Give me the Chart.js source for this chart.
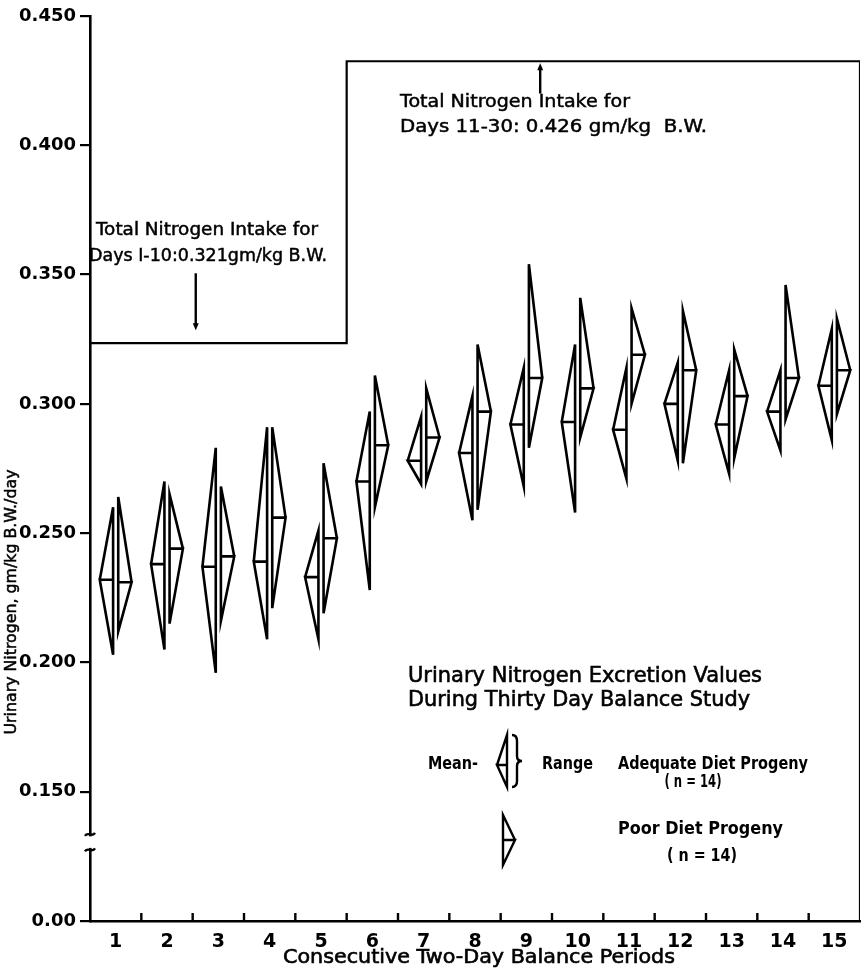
<!DOCTYPE html>
<html>
<head>
<meta charset="utf-8">
<title>Urinary Nitrogen Excretion</title>
<script src="https://cdn.jsdelivr.net/npm/chart.js"></script>
<style>
  html, body { margin: 0; padding: 0; background: #fff; }
</style>
</head>
<body>
<canvas id="chart" width="863" height="973"></canvas>
<script>
// data
const periods = [1, 2, 3, 4, 5, 6, 7, 8, 9, 10, 11, 12, 13, 14, 15];
const adequateMean = [0.232, 0.238, 0.237, 0.239, 0.233, 0.270, 0.278, 0.281, 0.292, 0.293, 0.290, 0.300, 0.292, 0.297, 0.307];
const adequateMin  = [0.203, 0.205, 0.196, 0.209, 0.209, 0.228, 0.269, 0.255, 0.268, 0.258, 0.271, 0.278, 0.273, 0.282, 0.286];
const adequateMax  = [0.260, 0.270, 0.283, 0.291, 0.251, 0.297, 0.295, 0.303, 0.314, 0.323, 0.314, 0.316, 0.313, 0.313, 0.329];
const poorMean = [0.231, 0.244, 0.241, 0.256, 0.248, 0.284, 0.287, 0.297, 0.310, 0.306, 0.319, 0.313, 0.303, 0.310, 0.313];
const poorMin  = [0.212, 0.215, 0.216, 0.221, 0.219, 0.260, 0.270, 0.259, 0.283, 0.287, 0.300, 0.277, 0.279, 0.294, 0.296];
const poorMax  = [0.264, 0.265, 0.268, 0.291, 0.277, 0.311, 0.306, 0.323, 0.354, 0.341, 0.337, 0.336, 0.321, 0.346, 0.333];
// intake lines as they are drawn: days 1-10 and days 11-30
const intakeLevels = [0.3235, 0.4325];
const yTickValues = [0.10, 0.15, 0.20, 0.25, 0.30, 0.35, 0.40, 0.45];
const yTickLabels = ['0.00', '0.150', '0.200', '0.250', '0.300', '0.350', '0.400', '0.450'];

const FONT = '"DejaVu Sans", sans-serif';
const VGAP = 0.05;   // half gap between the two range lines (x units)
const APEX = 0.26;   // how far the mean apex sticks out (x units)

// one polyline per series, shapes separated by gaps
function halfDiamonds(means, mins, maxs, side) {
  const pts = [];
  periods.forEach((p, i) => {
    const vx = p + side * VGAP, ax = p + side * (VGAP + APEX);
    pts.push({ x: ax, y: means[i] }, { x: vx, y: maxs[i] }, { x: vx, y: mins[i] },
             { x: ax, y: means[i] }, { x: vx, y: means[i] }, { x: p, y: null });
  });
  return pts;
}

const split = 5.5; // day 10 / day 11 boundary
const intakeLine = [
  { x: 0.5, y: intakeLevels[0] }, { x: split, y: intakeLevels[0] },
  { x: split, y: intakeLevels[1] }, { x: 15.5, y: intakeLevels[1] },
  { x: 15.5, y: yTickValues[0] }
];

const lineStyle = { showLine: true, pointRadius: 0, borderColor: '#000', borderWidth: 2.6,
  tension: 0, fill: false, spanGaps: false, borderJoinStyle: 'miter' };

// text squeezed/stretched to the width it has in the figure
function text(ctx, s, x, y, size, width, weight, align, heavy) {
  ctx.save();
  ctx.font = (weight || 'normal') + ' ' + size + 'px ' + FONT;
  const k = width ? width / ctx.measureText(s).width : 1;
  ctx.translate(x, y);
  ctx.scale(k, 1);
  ctx.textAlign = align || 'left';
  ctx.textBaseline = 'middle';
  ctx.fillStyle = '#000';
  ctx.fillText(s, 0, 0);
  if (heavy) { ctx.strokeStyle = '#000'; ctx.lineWidth = heavy; ctx.strokeText(s, 0, 0); }
  ctx.restore();
}

function halfGlyph(ctx, vx, ax, top, mid, bottom) {
  ctx.beginPath();
  ctx.moveTo(ax, mid); ctx.lineTo(vx, top); ctx.lineTo(vx, bottom);
  ctx.lineTo(ax, mid); ctx.lineTo(vx, mid);
  ctx.stroke();
}

const extras = {
  id: 'extras',
  afterDraw(chart) {
    const ctx = chart.ctx, xs = chart.scales.x, ys = chart.scales.y;
    const area = chart.chartArea;
    ctx.save();
    ctx.strokeStyle = '#000';
    ctx.lineWidth = 2.4;
    ctx.lineCap = 'butt';

    // inward tick marks between the periods
    for (let v = 1.5; v < 15; v++) {
      const px = xs.getPixelForValue(v);
      ctx.beginPath(); ctx.moveTo(px, area.bottom); ctx.lineTo(px, area.bottom - 8); ctx.stroke();
    }

    // axis break
    const ax = area.left, b1 = ys.getPixelForValue(0.1335), b2 = ys.getPixelForValue(0.1275);
    ctx.fillStyle = '#fff';
    ctx.fillRect(ax - 4, b1 + 2, 8, b2 - b1 - 4);
    [b1, b2].forEach(by => {
      ctx.beginPath();
      ctx.moveTo(ax - 5, by + 1.5);
      ctx.bezierCurveTo(ax - 2, by - 3.5, ax + 2, by + 3.5, ax + 5, by - 1.5);
      ctx.stroke();
    });

    // arrows to the intake lines
    ctx.fillStyle = '#000';
    let px = xs.getPixelForValue(2.56);
    let y0 = ys.getPixelForValue(intakeLevels[0] + 0.027), y1 = ys.getPixelForValue(intakeLevels[0] + 0.005);
    ctx.beginPath(); ctx.moveTo(px, y0); ctx.lineTo(px, y1 - 6); ctx.stroke();
    ctx.beginPath(); ctx.moveTo(px - 3, y1 - 7); ctx.lineTo(px + 3, y1 - 7); ctx.lineTo(px, y1); ctx.closePath(); ctx.fill();
    px = xs.getPixelForValue(9.27);
    y0 = ys.getPixelForValue(intakeLevels[1] - 0.0125); y1 = ys.getPixelForValue(intakeLevels[1]) + 2;
    ctx.beginPath(); ctx.moveTo(px, y0); ctx.lineTo(px, y1 + 6); ctx.stroke();
    ctx.beginPath(); ctx.moveTo(px - 3, y1 + 7); ctx.lineTo(px + 3, y1 + 7); ctx.lineTo(px, y1); ctx.closePath(); ctx.fill();

    // box texts
    text(ctx, 'Total Nitrogen Intake for', 96, 230, 18, 222, 'normal', 'left', 0.5);
    text(ctx, 'Days I-10:0.321gm/kg B.W.', 89, 256, 18, 238, 'normal', 'left', 0.5);
    text(ctx, 'Total Nitrogen Intake for', 400, 102, 18, 230, 'normal', 'left', 0.5);
    text(ctx, 'Days 11-30: 0.426 gm/kg  B.W.', 400, 127, 18, 307, 'normal', 'left', 0.5);

    // caption
    text(ctx, 'Urinary Nitrogen Excretion Values', 408, 677, 21, 354, 'normal', 'left', 0.6);
    text(ctx, 'During Thirty Day Balance Study', 408, 701, 21, 342, 'normal', 'left', 0.6);

    // key
    text(ctx, 'Mean-', 428, 765, 17, 50, 'bold');
    halfGlyph(ctx, 507, 497, 735, 765, 787);
    ctx.beginPath();
    ctx.moveTo(512, 735); ctx.quadraticCurveTo(517, 735, 517, 741); ctx.lineTo(517, 756);
    ctx.quadraticCurveTo(517, 761, 522, 761); ctx.quadraticCurveTo(517, 761, 517, 766);
    ctx.lineTo(517, 781); ctx.quadraticCurveTo(517, 787, 512, 787);
    ctx.stroke();
    text(ctx, 'Range', 542, 765, 17, 51, 'bold');
    text(ctx, 'Adequate Diet Progeny', 618, 765, 17, 190, 'bold');
    text(ctx, '( n = 14)', 693, 783, 17, 57, 'bold', 'center');
    halfGlyph(ctx, 503, 515, 815, 840, 865);
    text(ctx, 'Poor Diet Progeny', 618, 830, 17, 165, 'bold');
    text(ctx, '( n = 14)', 702, 857, 17, 70, 'bold', 'center');

    // axis titles
    ctx.save();
    ctx.translate(12, 602);
    ctx.rotate(-Math.PI / 2);
    text(ctx, 'Urinary Nitrogen, gm/kg B.W./day', 0, 0, 16, 265, 'normal', 'center', 0.5);
    ctx.restore();
    text(ctx, 'Consecutive Two-Day Balance Periods', 479, 958, 19, 392, 'normal', 'center', 0.6);

    ctx.restore();
  }
};

new Chart(document.getElementById('chart'), {
  type: 'scatter',
  data: {
    datasets: [
      Object.assign({ label: 'Adequate Diet Progeny', data: halfDiamonds(adequateMean, adequateMin, adequateMax, -1) }, lineStyle),
      Object.assign({ label: 'Poor Diet Progeny', data: halfDiamonds(poorMean, poorMin, poorMax, 1) }, lineStyle),
      Object.assign({ label: 'Total Nitrogen Intake', data: intakeLine }, lineStyle, { borderWidth: 2.2 })
    ]
  },
  options: {
    responsive: false,
    animation: false,
    devicePixelRatio: 1,
    layout: { padding: { top: 16, right: 3, bottom: 0, left: 0 } },
    plugins: { legend: { display: false }, tooltip: { enabled: false } },
    scales: {
      x: {
        type: 'linear', min: 0.5, max: 15.5,
        afterBuildTicks: s => { s.ticks = periods.map(v => ({ value: v })); },
        afterFit: s => { s.height = 52; },
        ticks: { color: '#000', padding: 10, autoSkip: false, maxRotation: 0,
          font: { family: FONT, size: 19, weight: 'bold' }, callback: v => String(v) },
        grid: { display: false, drawTicks: false },
        border: { display: true, color: '#000', width: 2.6 }
      },
      y: {
        type: 'linear', min: 0.10, max: 0.45,
        afterBuildTicks: s => { s.ticks = yTickValues.map(v => ({ value: v })); },
        afterFit: s => { s.width = 90; },
        ticks: { color: '#000', padding: 4, autoSkip: false,
          font: { family: FONT, size: 18, weight: 'bold' }, callback: (v, i) => yTickLabels[i] },
        grid: { drawOnChartArea: false, color: '#000', lineWidth: 2.2, tickLength: 10 },
        border: { display: true, color: '#000', width: 2.6 }
      }
    }
  },
  plugins: [extras]
});
</script>
</body>
</html>
